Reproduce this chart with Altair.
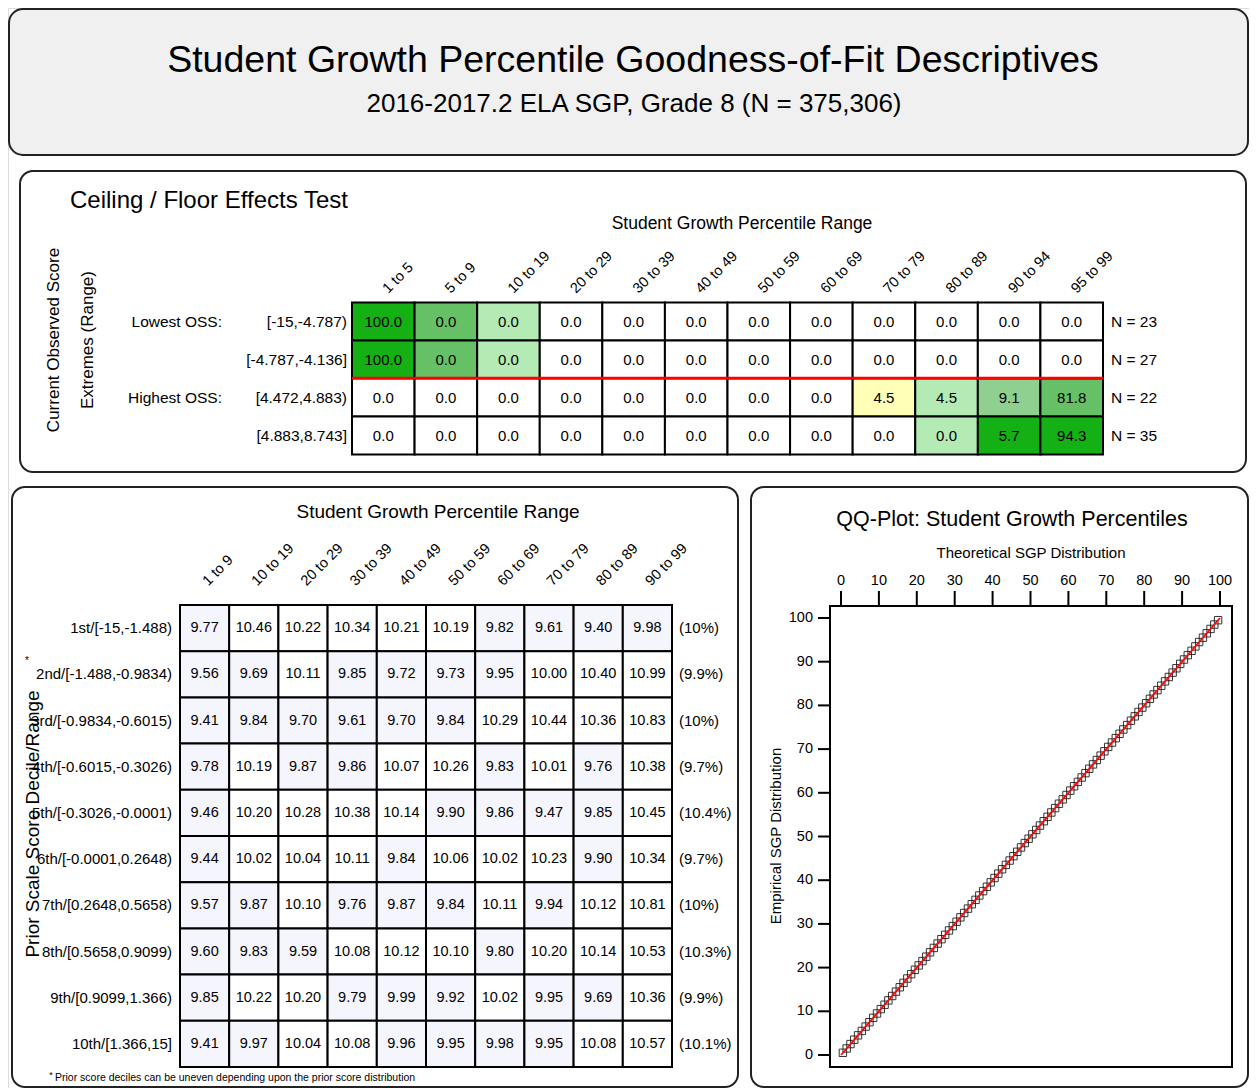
import altair as alt
import pandas as pd

FONT = "Liberation Sans"

# ------------------------------------------------------------------ data
title_text = "Student Growth Percentile Goodness-of-Fit Descriptives"
subtitle_text = "2016-2017.2 ELA SGP, Grade 8 (N = 375,306)"

ceiling_title = "Ceiling / Floor Effects Test"
sgp_range_title = "Student Growth Percentile Range"
ceiling_ytitle = ["Current Observed Score", "Extremes (Range)"]
ceiling_cols = ["1 to 5", "5 to 9", "10 to 19", "20 to 29", "30 to 39", "40 to 49",
                "50 to 59", "60 to 69", "70 to 79", "80 to 89", "90 to 94", "95 to 99"]
ceiling_rows = ["[-15,-4.787)", "[-4.787,-4.136]", "[4.472,4.883)", "[4.883,8.743]"]
ceiling_groups = ["Lowest OSS:", "", "Highest OSS:", ""]
ceiling_n = [23, 27, 22, 35]
ceiling_values = [
    [100.0, 0.0, 0.0, 0.0, 0.0, 0.0, 0.0, 0.0, 0.0, 0.0, 0.0, 0.0],
    [100.0, 0.0, 0.0, 0.0, 0.0, 0.0, 0.0, 0.0, 0.0, 0.0, 0.0, 0.0],
    [0.0, 0.0, 0.0, 0.0, 0.0, 0.0, 0.0, 0.0, 4.5, 4.5, 9.1, 81.8],
    [0.0, 0.0, 0.0, 0.0, 0.0, 0.0, 0.0, 0.0, 0.0, 0.0, 5.7, 94.3],
]
# shading level of each cell (0 = none ... 5 = strongest)
ceiling_level = [
    [5, 4, 2, 0, 0, 0, 0, 0, 0, 0, 0, 0],
    [5, 4, 2, 0, 0, 0, 0, 0, 0, 0, 0, 0],
    [0, 0, 0, 0, 0, 0, 0, 0, 1, 2, 3, 4],
    [0, 0, 0, 0, 0, 0, 0, 0, 0, 2, 5, 5],
]

decile_ytitle = "Prior Scale Score Decile/Range"
decile_cols = ["1 to 9", "10 to 19", "20 to 29", "30 to 39", "40 to 49",
               "50 to 59", "60 to 69", "70 to 79", "80 to 89", "90 to 99"]
decile_rows = ["1st/[-15,-1.488)", "2nd/[-1.488,-0.9834)", "3rd/[-0.9834,-0.6015)",
               "4th/[-0.6015,-0.3026)", "5th/[-0.3026,-0.0001)", "6th/[-0.0001,0.2648)",
               "7th/[0.2648,0.5658)", "8th/[0.5658,0.9099)", "9th/[0.9099,1.366)",
               "10th/[1.366,15]"]
decile_pct = ["(10%)", "(9.9%)", "(10%)", "(9.7%)", "(10.4%)", "(9.7%)",
              "(10%)", "(10.3%)", "(9.9%)", "(10.1%)"]
decile_values = [
    [9.77, 10.46, 10.22, 10.34, 10.21, 10.19, 9.82, 9.61, 9.40, 9.98],
    [9.56, 9.69, 10.11, 9.85, 9.72, 9.73, 9.95, 10.00, 10.40, 10.99],
    [9.41, 9.84, 9.70, 9.61, 9.70, 9.84, 10.29, 10.44, 10.36, 10.83],
    [9.78, 10.19, 9.87, 9.86, 10.07, 10.26, 9.83, 10.01, 9.76, 10.38],
    [9.46, 10.20, 10.28, 10.38, 10.14, 9.90, 9.86, 9.47, 9.85, 10.45],
    [9.44, 10.02, 10.04, 10.11, 9.84, 10.06, 10.02, 10.23, 9.90, 10.34],
    [9.57, 9.87, 10.10, 9.76, 9.87, 9.84, 10.11, 9.94, 10.12, 10.81],
    [9.60, 9.83, 9.59, 10.08, 10.12, 10.10, 9.80, 10.20, 10.14, 10.53],
    [9.85, 10.22, 10.20, 9.79, 9.99, 9.92, 10.02, 9.95, 9.69, 10.36],
    [9.41, 9.97, 10.04, 10.08, 9.96, 9.95, 9.98, 9.95, 10.08, 10.57],
]
footnote_text = "Prior score deciles can be uneven depending upon the prior score distribution"

qq_title = "QQ-Plot: Student Growth Percentiles"
qq_xtitle = "Theoretical SGP Distribution"
qq_ytitle = "Empirical SGP Distribution"
qq_ticks = [0, 10, 20, 30, 40, 50, 60, 70, 80, 90, 100]
qq_theoretical = [0.5, 1.5, 2.5, 3.5, 4.5, 5.5, 6.5, 7.5, 8.5, 9.5,
                  10.5, 11.5, 12.5, 13.5, 14.5, 15.5, 16.5, 17.5, 18.5, 19.5,
                  20.5, 21.5, 22.5, 23.5, 24.5, 25.5, 26.5, 27.5, 28.5, 29.5,
                  30.5, 31.5, 32.5, 33.5, 34.5, 35.5, 36.5, 37.5, 38.5, 39.5,
                  40.5, 41.5, 42.5, 43.5, 44.5, 45.5, 46.5, 47.5, 48.5, 49.5,
                  50.5, 51.5, 52.5, 53.5, 54.5, 55.5, 56.5, 57.5, 58.5, 59.5,
                  60.5, 61.5, 62.5, 63.5, 64.5, 65.5, 66.5, 67.5, 68.5, 69.5,
                  70.5, 71.5, 72.5, 73.5, 74.5, 75.5, 76.5, 77.5, 78.5, 79.5,
                  80.5, 81.5, 82.5, 83.5, 84.5, 85.5, 86.5, 87.5, 88.5, 89.5,
                  90.5, 91.5, 92.5, 93.5, 94.5, 95.5, 96.5, 97.5, 98.5, 99.5]
qq_empirical = [0.5, 1.5, 2.5, 3.5, 4.5, 5.5, 6.5, 7.5, 8.5, 9.5,
                10.5, 11.5, 12.5, 13.5, 14.5, 15.5, 16.5, 17.5, 18.5, 19.5,
                20.5, 21.5, 22.5, 23.5, 24.5, 25.5, 26.5, 27.5, 28.5, 29.5,
                30.5, 31.5, 32.5, 33.5, 34.5, 35.5, 36.5, 37.5, 38.5, 39.5,
                40.5, 41.5, 42.5, 43.5, 44.5, 45.5, 46.5, 47.5, 48.5, 49.5,
                50.5, 51.5, 52.5, 53.5, 54.5, 55.5, 56.5, 57.5, 58.5, 59.5,
                60.5, 61.5, 62.5, 63.5, 64.5, 65.5, 66.5, 67.5, 68.5, 69.5,
                70.5, 71.5, 72.5, 73.5, 74.5, 75.5, 76.5, 77.5, 78.5, 79.5,
                80.5, 81.5, 82.5, 83.5, 84.5, 85.5, 86.5, 87.5, 88.5, 89.5,
                90.5, 91.5, 92.5, 93.5, 94.5, 95.5, 96.5, 97.5, 98.5, 99.5]
ref_x = [0, 100]
ref_y = [0, 100]

# ------------------------------------------------------------------ tables
ceil_df = pd.DataFrame([
    {"row": r, "col": c, "value": ceiling_values[i][j], "level": ceiling_level[i][j]}
    for i, r in enumerate(ceiling_rows) for j, c in enumerate(ceiling_cols)])
ceil_row_df = pd.DataFrame({"row": ceiling_rows, "group": ceiling_groups,
                            "n": ["N = %d" % n for n in ceiling_n]})
ceil_col_df = pd.DataFrame({"col": ceiling_cols})

dec_df = pd.DataFrame([
    {"row": r, "col": c, "value": decile_values[i][j]}
    for i, r in enumerate(decile_rows) for j, c in enumerate(decile_cols)])
dec_row_df = pd.DataFrame({"row": decile_rows, "pct": decile_pct})
dec_col_df = pd.DataFrame({"col": decile_cols})

qq_df = pd.DataFrame({"theoretical": qq_theoretical, "empirical": qq_empirical})
ref_df = pd.DataFrame({"x": ref_x, "y": ref_y})
tick_df = pd.DataFrame({"t": qq_ticks})
one = pd.DataFrame({"k": [0]})

# ------------------------------------------------------------------ helpers
STROKE = "#222222"


def frame(x1, y1, x2, y2, fill="#ffffff", r=13):
    return alt.Chart(one).mark_rect(fill=fill, stroke=STROKE, strokeWidth=2, cornerRadius=r).encode(
        x=alt.value(x1), x2=alt.value(x2), y=alt.value(y1), y2=alt.value(y2))


def label(text, x, y, size, align="center", baseline="alphabetic", angle=None):
    kw = dict(text=text, fontSize=size, align=align, baseline=baseline, font=FONT, color="black")
    if angle is not None:
        kw["angle"] = angle
    return alt.Chart(one).mark_text(**kw).encode(x=alt.value(x), y=alt.value(y))


def band(domain, rng):
    return alt.Scale(type="band", domain=domain, range=rng, paddingInner=0, paddingOuter=0)


layers = []

# ------------------------------------------------------------------ title box
layers.append(frame(1, 1, 1240, 147, fill="#f0f0f0", r=14))
layers.append(label(title_text, 625, 64, 37.5))
layers.append(label(subtitle_text, 626, 104, 26))

# ------------------------------------------------------------------ ceiling / floor panel
CX = [344, 1095]
CY = [294.5, 446.5]
layers.append(frame(12, 163, 1238, 464))
layers.append(label(ceiling_title, 62, 200, 24, align="left"))
layers.append(label(sgp_range_title, 734, 221, 17.5))
layers.append(label(ceiling_ytitle[0], 46, 332, 17, baseline="middle", angle=270))
layers.append(label(ceiling_ytitle[1], 80, 332, 17, baseline="middle", angle=270))

SHADES = ["#ffffff", "#ffffb8", "#b4ebb4", "#8fcf8f", "#66c066", "#14b014"]
layers.append(alt.Chart(ceil_df).mark_rect(stroke="black", strokeWidth=2).encode(
    x=alt.X("col:N", scale=band(ceiling_cols, CX), axis=None),
    y=alt.Y("row:N", scale=band(ceiling_rows, CY), axis=None),
    fill=alt.Fill("level:O", scale=alt.Scale(domain=[0, 1, 2, 3, 4, 5], range=SHADES), legend=None)))
layers.append(alt.Chart(ceil_df).mark_text(fontSize=15, font=FONT, color="black").encode(
    x=alt.X("col:N", scale=band(ceiling_cols, CX), axis=None),
    y=alt.Y("row:N", scale=band(ceiling_rows, CY), axis=None),
    text=alt.Text("value:Q", format=".1f")))
layers.append(alt.Chart(one).mark_rule(color="#ff0000", strokeWidth=2.5).encode(
    x=alt.value(CX[0]), x2=alt.value(CX[1]), y=alt.value(370)))
layers.append(alt.Chart(ceil_col_df).mark_text(fontSize=14.5, font=FONT, color="black", angle=315,
                                               align="left", baseline="alphabetic", dx=3.5, dy=3.5).encode(
    x=alt.X("col:N", scale=band(ceiling_cols, CX), axis=None),
    y=alt.value(286), text="col:N"))
layers.append(alt.Chart(ceil_row_df).mark_text(fontSize=15.5, font=FONT, color="black", align="right").encode(
    y=alt.Y("row:N", scale=band(ceiling_rows, CY), axis=None), x=alt.value(339), text="row:N"))
layers.append(alt.Chart(ceil_row_df).mark_text(fontSize=15.5, font=FONT, color="black", align="right").encode(
    y=alt.Y("row:N", scale=band(ceiling_rows, CY), axis=None), x=alt.value(214), text="group:N"))
layers.append(alt.Chart(ceil_row_df).mark_text(fontSize=15.5, font=FONT, color="black", align="left").encode(
    y=alt.Y("row:N", scale=band(ceiling_rows, CY), axis=None), x=alt.value(1103), text="n:N"))

# ------------------------------------------------------------------ prior decile panel
DX = [172, 664]
DY = [597, 1059]
layers.append(frame(4, 479, 730, 1079))
layers.append(label(sgp_range_title, 430, 510, 19))
layers.append(label(decile_ytitle, 25, 816, 19, baseline="middle", angle=270))
layers.append(label("*", 19, 656, 10))
layers.append(label("*", 43, 1070, 9))
layers.append(label(footnote_text, 47, 1073, 10.5, align="left"))

layers.append(alt.Chart(dec_df).mark_rect(stroke="black", strokeWidth=2).encode(
    x=alt.X("col:N", scale=band(decile_cols, DX), axis=None),
    y=alt.Y("row:N", scale=band(decile_rows, DY), axis=None),
    fill=alt.Fill("value:Q", scale=alt.Scale(type="threshold", domain=[10], range=["#f5f5fd", "#ffffff"]),
                  legend=None)))
layers.append(alt.Chart(dec_df).mark_text(fontSize=14.5, font=FONT, color="black").encode(
    x=alt.X("col:N", scale=band(decile_cols, DX), axis=None),
    y=alt.Y("row:N", scale=band(decile_rows, DY), axis=None),
    text=alt.Text("value:Q", format=".2f")))
layers.append(alt.Chart(dec_col_df).mark_text(fontSize=14.5, font=FONT, color="black", angle=315,
                                              align="left", baseline="alphabetic", dx=1.5, dy=3.5).encode(
    x=alt.X("col:N", scale=band(decile_cols, DX), axis=None),
    y=alt.value(577), text="col:N"))
layers.append(alt.Chart(dec_row_df).mark_text(fontSize=15, font=FONT, color="black", align="right").encode(
    y=alt.Y("row:N", scale=band(decile_rows, DY), axis=None), x=alt.value(164), text="row:N"))
layers.append(alt.Chart(dec_row_df).mark_text(fontSize=15, font=FONT, color="black", align="left").encode(
    y=alt.Y("row:N", scale=band(decile_rows, DY), axis=None), x=alt.value(671), text="pct:N"))

# ------------------------------------------------------------------ QQ panel
QX = alt.Scale(domain=[0, 100], range=[833, 1212], nice=False, zero=False)
QY = alt.Scale(domain=[0, 100], range=[1047, 610], nice=False, zero=False)
layers.append(frame(743, 479, 1240, 1079))
layers.append(label(qq_title, 1004, 518, 21.5))
layers.append(label(qq_xtitle, 1023, 550, 15))
layers.append(label(qq_ytitle, 768, 828, 15, baseline="middle", angle=270))
layers.append(alt.Chart(one).mark_rect(fillOpacity=0, stroke="black", strokeWidth=2).encode(
    x=alt.value(822), x2=alt.value(1224), y=alt.value(598), y2=alt.value(1059)))
# axis ticks and tick labels
layers.append(alt.Chart(tick_df).mark_rule(color="black", strokeWidth=2).encode(
    x=alt.X("t:Q", scale=QX, axis=None), y=alt.value(583), y2=alt.value(597)))
layers.append(alt.Chart(tick_df).mark_text(fontSize=14.5, font=FONT, color="black", baseline="alphabetic").encode(
    x=alt.X("t:Q", scale=QX, axis=None), y=alt.value(577), text="t:Q"))
layers.append(alt.Chart(tick_df).mark_rule(color="black", strokeWidth=2).encode(
    y=alt.Y("t:Q", scale=QY, axis=None), x=alt.value(810), x2=alt.value(822)))
layers.append(alt.Chart(tick_df).mark_text(fontSize=14.5, font=FONT, color="black", align="right",
                                           baseline="middle").encode(
    y=alt.Y("t:Q", scale=QY, axis=None), x=alt.value(805), text="t:Q"))
# points and reference line
layers.append(alt.Chart(qq_df).mark_point(shape="square", filled=False, size=55, color="#111111",
                                          strokeWidth=1, opacity=0.85).encode(
    x=alt.X("theoretical:Q", scale=QX, axis=None),
    y=alt.Y("empirical:Q", scale=QY, axis=None)))
layers.append(alt.Chart(ref_df).mark_line(color="#ff0000", strokeWidth=1.8).encode(
    x=alt.X("x:Q", scale=QX, axis=None),
    y=alt.Y("y:Q", scale=QY, axis=None)))

chart = alt.layer(*layers).resolve_scale(
    x="independent", y="independent", fill="independent"
).properties(width=1241, height=1080, padding=0, background="#ffffff").configure_view(
    strokeWidth=0).configure(font=FONT)

chart.save("out.html", embed_options={"renderer": "svg", "actions": False})
